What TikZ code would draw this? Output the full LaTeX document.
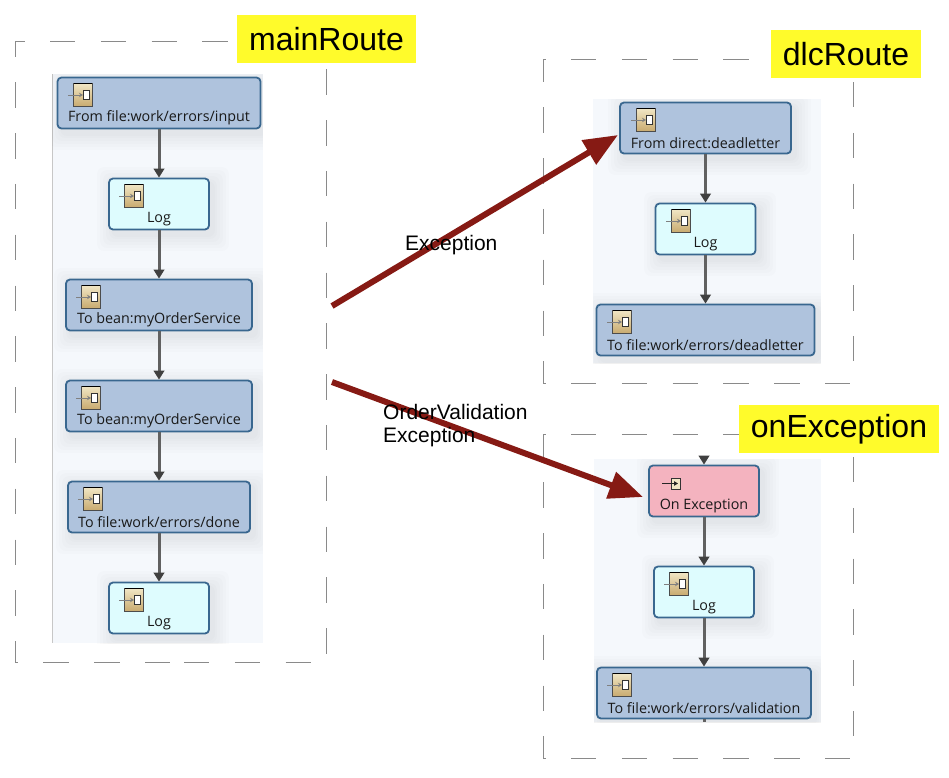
\documentclass[tikz,border=0pt]{standalone}
\usepackage{fontspec}
\setmainfont{Liberation Sans}
\newfontfamily\flowfont{Open Sans}
\usetikzlibrary{arrows.meta,calc}
\definecolor{boxblue}{HTML}{AFC3DD}
\definecolor{boxcyan}{HTML}{DEFCFE}
\definecolor{boxpink}{HTML}{F4B3BF}
\definecolor{boxedge}{HTML}{39678F}
\definecolor{panel}{HTML}{F5F8FC}
\definecolor{redarrow}{HTML}{861A14}
\definecolor{dashgray}{HTML}{8A8A8A}
\definecolor{titleyellow}{HTML}{FFFB2B}
\definecolor{icontop}{HTML}{F1E7C6}
\definecolor{iconbot}{HTML}{C9AB70}
\tikzset{
  flowbox/.style={draw=boxedge,line width=1.8pt,rounded corners=4pt,inner sep=0pt,minimum height=51pt,
    label={[name=\tikzlastnode-t,font=\flowfont\fontsize{14.3}{16}\selectfont,text=black!90,yshift=-15pt]center:#1}},
  conn/.style={draw=black!62,line width=3pt,-{Triangle[length=9pt,width=10.5pt,color=black!75]}},
  stub/.style={draw=black!62,line width=3pt},
  redarr/.style={draw=redarrow,line width=6pt,-{Triangle[length=34pt,width=27pt,color=redarrow]}},
  dashline/.style={draw=dashgray,line width=0.9pt,dash pattern=on 25.4pt off 25.4pt},
  titlebox/.style={fill=titleyellow,inner sep=0pt,minimum height=48pt,font=\fontsize{32}{36}\selectfont},
  edgelabel/.style={font=\fontsize{21}{23}\selectfont,anchor=west,align=left,inner sep=0pt},
  panelbox/.style={fill=panel,draw=none}
}
\newcommand{\softshadow}[4]{% x1 y1 x2 y2
  \foreach \s in {16,13,10,7,4,2}{
    \fill[black,opacity=0.012,rounded corners=7pt] (#1-\s+4,#2-\s+5) rectangle (#3+\s+4,#4+\s+5);
  }
}
\newcommand{\flowicon}[2]{% left and top of the icon box
  \shade[top color=icontop,bottom color=iconbot,draw=none] (#1,#2) rectangle (#1+19,#2+23);
  \draw[black,line width=.7pt] (#1,#2) -- (#1+19,#2);
  \draw[black!70,line width=.4pt] (#1,#2) -- (#1,#2+23) -- (#1+19,#2+23) -- (#1+19,#2);
  \fill[white,draw=black!80,line width=.7pt] (#1+10.5,#2+7) rectangle (#1+16,#2+16);
  \draw[black!50,line width=1pt,-{Stealth[length=4pt,width=4.5pt]}] (#1-5,#2+12) -- (#1+10,#2+12);
}
\begin{document}
\begin{tikzpicture}[x=1pt,y=-1pt]
\useasboundingbox (0,0) rectangle (949,777);
\fill[white] (0,0) rectangle (949,777);
% dashed frames
\draw[dashline,dash phase=15.8pt] (15,41) -- (326,41);
\draw[dashline,dash phase=9.5pt] (15,41) -- (15,662);
\draw[dashline,dash phase=22.5pt] (326,41) -- (326,654);
\draw[dashline,dash phase=22.4pt] (15,662) -- (178,662);
\draw[dashline] (184,662) -- (311,662);
\draw[dashline,dash phase=22.8pt] (543,59) -- (771,59);
\draw[dashline,dash phase=2.5pt] (543,59) -- (543,383);
\draw[dashline,dash phase=27.8pt] (853,59) -- (853,362);
\draw[dashline,dash phase=22.8pt] (543,383) -- (853,383);
\draw[dashline,dash phase=22.8pt] (543,434) -- (739,434);
\draw[dashline,dash phase=2.5pt] (543,434) -- (543,758);
\draw[dashline,dash phase=27.8pt] (853,434) -- (853,737);
\draw[dashline,dash phase=22.8pt] (543,758) -- (853,758);
% panels
\fill[panelbox] (52,74) rectangle (263,643);
\draw[black!22,line width=.7pt] (52,74) -- (52,643);
\fill[panelbox] (593,99) rectangle (821,363);
\fill[panelbox] (594,459) rectangle (821,722);
% shadows
\begin{scope}
\clip (52,74) rectangle (263,643);
\softshadow{58}{77}{261}{129}
\softshadow{109}{178}{209}{230}
\softshadow{66}{279}{252}{331}
\softshadow{66}{380}{252}{432}
\softshadow{68}{481}{250}{533}
\softshadow{109}{582}{209}{634}
\end{scope}
\begin{scope}
\clip (593,99) rectangle (821,363);
\softshadow{620}{102}{791}{154}
\softshadow{656}{203}{756}{255}
\softshadow{597}{304}{815}{356}
\end{scope}
\begin{scope}
\clip (594,459) rectangle (821,722);
\softshadow{649}{465}{759}{517}
\softshadow{654}{566}{754}{618}
\softshadow{597}{667}{811}{719}
\end{scope}
% main route
\node[flowbox={From file:work/errors/input},fill=boxblue,minimum width=203pt] (m1) at (159,103) {};
\node[flowbox={Log},fill=boxcyan,minimum width=100pt] (m2) at (159,204) {};
\node[flowbox={To bean:myOrderService},fill=boxblue,minimum width=186pt] (m3) at (159,305) {};
\node[flowbox={To bean:myOrderService},fill=boxblue,minimum width=186pt] (m4) at (159,406) {};
\node[flowbox={To file:work/errors/done},fill=boxblue,minimum width=182pt] (m5) at (159,507) {};
\node[flowbox={Log},fill=boxcyan,minimum width=100pt] (m6) at (159,608) {};
\draw[conn] (m1) -- (m2);
\draw[conn] (m2) -- (m3);
\draw[conn] (m3) -- (m4);
\draw[conn] (m4) -- (m5);
\draw[conn] (m5) -- (m6);
\flowicon{73}{83}
\flowicon{124}{184}
\flowicon{81}{285}
\flowicon{81}{386}
\flowicon{83}{487}
\flowicon{124}{588}
% dlc route
\node[flowbox={From direct:deadletter},fill=boxblue,minimum width=171pt] (d1) at (705.5,128) {};
\node[flowbox={Log},fill=boxcyan,minimum width=100pt] (d2) at (705.5,229) {};
\node[flowbox={To file:work/errors/deadletter},fill=boxblue,minimum width=218pt] (d3) at (705.5,330) {};
\draw[conn] (d1) -- (d2);
\draw[conn] (d2) -- (d3);
\flowicon{636}{108}
\flowicon{671}{209}
\flowicon{612}{310}
% on exception
\coordinate (estart) at (704,459);
\coordinate (eend) at (704,722);
\node[flowbox={On Exception},fill=boxpink,minimum width=110pt] (e1) at (704,491) {};
\node[flowbox={Log},fill=boxcyan,minimum width=100pt] (e2) at (704,592) {};
\node[flowbox={To file:work/errors/validation},fill=boxblue,minimum width=214pt] (e3) at (704,693) {};
\draw[conn] (estart) -- (e1);
\draw[conn] (e1) -- (e2);
\draw[conn] (e2) -- (e3);
\draw[stub] (e3) -- (eend);
\fill[icontop,draw=black!80,line width=.5pt] (671,478) rectangle (680,489);
\draw[black!85,line width=.8pt,-{Triangle[length=4pt,width=4.5pt]}] (662,483.5) -- (678,483.5);
\flowicon{669}{572}
\flowicon{612}{673}
% red arrows
\coordinate (r1s) at (332,306);
\coordinate (r1e) at (618,135);
\coordinate (r2s) at (332,382);
\coordinate (r2e) at (643,497);
\draw[redarr] (r1s) -- (r1e);
\draw[redarr] (r2s) -- (r2e);
% edge labels
\node[edgelabel] (l1) at (405,245) {Exception};
\node[edgelabel,anchor=north west] (l2) at (383,404) {OrderValidation\\Exception};
% titles
\node[titlebox,minimum width=179pt] (t1) at (326.5,39) {\raisebox{-3pt}{mainRoute}};
\node[titlebox,minimum width=150pt] (t2) at (846,54) {\raisebox{-3pt}{dlcRoute}};
\node[titlebox,minimum width=200pt] (t3) at (839,429) {\raisebox{-3pt}{onException}};
\end{tikzpicture}
\end{document}
